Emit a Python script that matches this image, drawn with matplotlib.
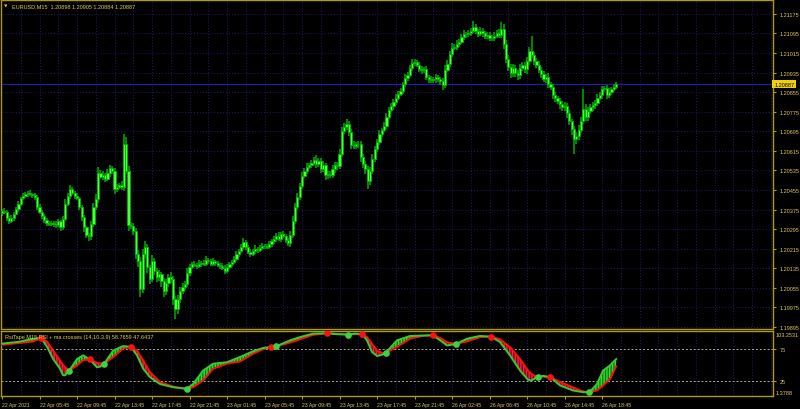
import numpy as np
import matplotlib
matplotlib.use("Agg")
import matplotlib.pyplot as plt
from matplotlib.transforms import blended_transform_factory

# EURUSD M15 closes, 22 Apr 01:45 .. 26 Apr ~20:15 (one value per bar)
closes = [
    1.20369, 1.20365, 1.20340, 1.20328, 1.20340, 1.20357, 1.20377, 1.20398, 1.20422, 1.20430,
    1.20438, 1.20443, 1.20438, 1.20434, 1.20426, 1.20385, 1.20365, 1.20348, 1.20332, 1.20320,
    1.20316, 1.20318, 1.20314, 1.20312, 1.20328, 1.20303, 1.20336, 1.20398, 1.20430, 1.20459,
    1.20443, 1.20430, 1.20422, 1.20385, 1.20344, 1.20303, 1.20271, 1.20267, 1.20316, 1.20385,
    1.20418, 1.20524, 1.20508, 1.20516, 1.20500, 1.20524, 1.20545, 1.20533, 1.20459, 1.20467,
    1.20475, 1.20467, 1.20643, 1.20533, 1.20312, 1.20308, 1.20287, 1.20193, 1.20164, 1.20050,
    1.20193, 1.20222, 1.20140, 1.20091, 1.20164, 1.20124, 1.20099, 1.20111, 1.20083, 1.20042,
    1.20074, 1.20099, 1.20091, 1.20009, 1.19968, 1.20009, 1.20042, 1.20058, 1.20070, 1.20115,
    1.20140, 1.20152, 1.20150, 1.20144, 1.20152, 1.20156, 1.20152, 1.20169, 1.20164, 1.20152,
    1.20164, 1.20156, 1.20148, 1.20144, 1.20136, 1.20124, 1.20140, 1.20152, 1.20160, 1.20173,
    1.20193, 1.20205, 1.20222, 1.20242, 1.20222, 1.20201, 1.20193, 1.20205, 1.20214, 1.20209,
    1.20218, 1.20226, 1.20224, 1.20222, 1.20234, 1.20246, 1.20254, 1.20267, 1.20254, 1.20275,
    1.20267, 1.20250, 1.20238, 1.20271, 1.20328, 1.20385, 1.20426, 1.20471, 1.20512, 1.20533,
    1.20549, 1.20557, 1.20565, 1.20578, 1.20561, 1.20573, 1.20541, 1.20557, 1.20516, 1.20520,
    1.20516, 1.20541, 1.20557, 1.20553, 1.20602, 1.20696, 1.20712, 1.20725, 1.20692, 1.20639,
    1.20635, 1.20643, 1.20643, 1.20590, 1.20561, 1.20541, 1.20492, 1.20533, 1.20582, 1.20622,
    1.20651, 1.20684, 1.20700, 1.20717, 1.20753, 1.20782, 1.20798, 1.20815, 1.20831, 1.20847,
    1.20860, 1.20888, 1.20913, 1.20925, 1.20954, 1.20974, 1.20978, 1.20966, 1.20950, 1.20946,
    1.20948, 1.20917, 1.20909, 1.20905, 1.20909, 1.20917, 1.20909, 1.20901, 1.20884, 1.20946,
    1.20970, 1.21011, 1.21036, 1.21040, 1.21052, 1.21060, 1.21081, 1.21093, 1.21091, 1.21097,
    1.21105, 1.21121, 1.21105, 1.21093, 1.21105, 1.21097, 1.21085, 1.21089, 1.21076, 1.21078,
    1.21085, 1.21097, 1.21089, 1.21113, 1.21052, 1.20991, 1.20958, 1.20933, 1.20954, 1.20933,
    1.20925, 1.20954, 1.20966, 1.20950, 1.20982, 1.21023, 1.21007, 1.20982, 1.20966, 1.20946,
    1.20929, 1.20909, 1.20917, 1.20888, 1.20876, 1.20843, 1.20831, 1.20819, 1.20807, 1.20794,
    1.20798, 1.20770, 1.20737, 1.20704, 1.20663, 1.20676, 1.20700, 1.20737, 1.20786, 1.20753,
    1.20778, 1.20794, 1.20802, 1.20811, 1.20831, 1.20843, 1.20868, 1.20872, 1.20843, 1.20856,
    1.20868, 1.20876, 1.20887,
]
first_open = 1.20360

# wick lengths in points (0.00001)
wick_up = [
    8, 12, 6, 10, 14, 8, 10, 12, 6, 14, 10, 8, 12, 6, 10, 8, 12, 6, 10, 8,
    6, 10, 8, 12, 10, 6, 14, 18, 12, 16, 10, 8, 12, 6, 8, 10, 6, 8, 12, 16,
    20, 24, 12, 16, 10, 18, 14, 8, 10, 12, 8, 16, 41, 30, 20, 12, 10, 14, 18, 16,
    22, 26, 12, 10, 24, 14, 12, 16, 10, 12, 18, 14, 20, 10, 12, 16, 14, 18, 12, 20,
    14, 10, 12, 8, 16, 10, 12, 14, 8, 10, 12, 6, 10, 8, 12, 10, 14, 8, 10, 12,
    14, 10, 12, 16, 10, 8, 12, 10, 14, 8, 10, 12, 8, 10, 12, 10, 14, 12, 16, 10,
    12, 8, 10, 16, 20, 18, 16, 14, 18, 12, 16, 10, 14, 12, 20, 14, 12, 16, 10, 14,
    12, 16, 14, 12, 20, 18, 16, 20, 14, 12, 16, 10, 14, 12, 10, 14, 12, 16, 18, 14,
    12, 16, 10, 14, 18, 12, 14, 10, 16, 12, 14, 10, 16, 12, 14, 18, 12, 10, 14, 12,
    10, 12, 8, 14, 10, 12, 8, 10, 12, 20, 16, 14, 18, 12, 16, 14, 12, 16, 10, 14,
    12, 25, 14, 10, 16, 12, 10, 14, 12, 10, 16, 14, 18, 29, 22, 16, 14, 12, 18, 14,
    12, 16, 14, 12, 18, 16, 62, 14, 12, 16, 10, 14, 12, 16, 10, 14, 12, 10, 14, 12,
    16, 12, 14, 10, 14, 18, 20, 16, 82, 20, 16, 12, 14, 10, 16, 12, 14, 10, 12, 14,
    10, 12, 8,
]
wick_dn = [
    10, 8, 14, 12, 8, 10, 6, 12, 8, 10, 6, 12, 8, 10, 14, 12, 8, 10, 12, 14,
    10, 8, 12, 14, 10, 16, 12, 10, 8, 14, 10, 12, 8, 14, 16, 18, 12, 21, 16, 12,
    14, 18, 10, 14, 12, 10, 16, 14, 20, 12, 10, 14, 16, 12, 24, 14, 16, 20, 24, 33,
    18, 16, 24, 20, 14, 18, 22, 16, 24, 26, 18, 14, 16, 24, 41, 20, 16, 14, 12, 10,
    12, 8, 10, 14, 8, 12, 10, 8, 12, 10, 8, 12, 10, 14, 10, 12, 8, 10, 12, 8,
    10, 12, 8, 12, 14, 10, 12, 8, 10, 12, 8, 10, 12, 8, 10, 14, 12, 10, 8, 12,
    10, 12, 14, 18, 12, 14, 10, 12, 14, 10, 12, 8, 14, 10, 16, 12, 18, 14, 20, 16,
    14, 12, 16, 18, 12, 14, 12, 10, 16, 18, 14, 12, 16, 20, 18, 22, 33, 16, 14, 12,
    10, 12, 14, 10, 12, 8, 10, 14, 12, 10, 8, 12, 10, 14, 10, 12, 14, 10, 12, 16,
    14, 12, 16, 14, 12, 18, 14, 16, 22, 12, 10, 14, 12, 10, 14, 12, 10, 12, 14, 10,
    12, 10, 14, 12, 10, 16, 12, 14, 10, 12, 14, 10, 12, 14, 20, 18, 16, 20, 14, 18,
    22, 16, 14, 18, 20, 14, 12, 16, 14, 12, 16, 14, 18, 16, 14, 18, 16, 14, 20, 18,
    16, 22, 18, 24, 61, 20, 16, 14, 12, 18, 14, 12, 16, 14, 12, 10, 14, 12, 16, 10,
    12, 8, 10,
]

price_ticks = [1.19895, 1.19975, 1.20055, 1.20135, 1.20215, 1.20295, 1.20375, 1.20455,
               1.20535, 1.20615, 1.20695, 1.20775, 1.20855, 1.20935, 1.21015, 1.21095, 1.21175]
time_labels = ["22 Apr 2021", "22 Apr 05:45", "22 Apr 09:45", "22 Apr 13:45", "22 Apr 17:45",
               "22 Apr 21:45", "23 Apr 01:45", "23 Apr 05:45", "23 Apr 09:45", "23 Apr 13:45",
               "23 Apr 17:45", "23 Apr 21:45", "26 Apr 02:45", "26 Apr 06:45", "26 Apr 10:45",
               "26 Apr 14:45", "26 Apr 18:45"]
last_price = 1.20887

# RsiTape indicator (bar position, rsi, ma)
tape_x = [0, 7.7, 13.2, 16.6, 19.2, 21.8, 24.7, 26, 26.9, 28.7, 32, 34.6, 37.5, 40.5, 41.8, 43.6,
          47.4, 51.6, 54.9, 57.6, 60.2, 63.1, 67.4, 73, 78.8, 81.5, 85.8, 90, 96, 101.5, 107.1,
          111.3, 114.6, 115.8, 116.9, 122.9, 127.1, 132.7, 138.8, 142.9, 147.7, 150.7, 153.7,
          155.7, 157.8, 160, 162.1, 163.7, 168.5, 174.1, 179.6, 183.7, 186.9, 189.8, 193.7,
          198.4, 203.9, 208.6, 212.4, 216.7, 221, 224.4, 225.7, 228.5, 230.8, 233.8, 238.1,
          243.6, 247.9, 250.6, 253.8, 256.4, 259.4, 262]
rsi_line = [82.8, 86, 90.6, 91.7, 78, 59, 44, 34, 33.5, 41, 59, 64.6, 58.3, 46, 47, 51.5,
            72, 79, 78, 64.6, 44, 30.7, 20, 15, 12.5, 20, 41, 51.6, 54, 62, 71,
            76, 77.6, 77.8, 78.6, 88, 93, 98.4, 99, 97.5, 96.9, 98.5, 97.4,
            88, 70, 63.5, 65.5, 68.5, 88, 94.8, 95.5, 95.8, 88, 80, 82.3,
            90.6, 94.8, 93.7, 85.4, 64.6, 41, 26.6, 25.5, 30.7, 32.7, 30.7, 17.7,
            9.9, 7.3, 7.3, 20, 41, 49, 58.77]
ma_line = [81, 84, 86, 91.7, 86, 72, 57, 50, 46, 41, 49, 57, 58.3, 53, 52, 51.5,
           62, 75, 78, 72, 57, 38.6, 23, 16, 12.5, 15, 25.5, 43.7, 51.6, 55, 67,
           74, 77.6, 78.4, 78.6, 84.4, 89.6, 96.5, 99, 98, 96.9, 97.5, 97.4,
           93, 82.8, 72, 68.5, 68.5, 77.6, 90.6, 95, 95.8, 91.7, 85, 82.3,
           86.4, 93, 93.7, 89.6, 77.6, 59, 41, 36, 30.7, 31.5, 30.7, 23,
           15, 8.3, 7.3, 10, 17.7, 28, 47.64]
cross_x = [16.6, 28.7, 37.5, 43.6, 54.9, 78.8, 114.6, 116.9, 138.8, 147.7, 153.7, 163.7,
           183.7, 193.7, 208.6, 228.5, 233.8, 250.6]
cross_y = [91.7, 41, 58.3, 51.5, 78, 12.5, 77.6, 78.6, 99, 96.9, 97.4, 68.5,
           95.8, 82.3, 93.7, 30.7, 30.7, 7.3]
cross_up = [0, 1, 0, 1, 0, 1, 0, 1, 0, 1, 0, 1, 0, 1, 0, 1, 0, 1]

assert len(closes) == len(wick_up) == len(wick_dn)

frame = '#b09a10'
txt = '#dcc850'
grid_c = '#1c1c70'
fnt = ['Liberation Sans', 'DejaVu Sans']
fs = 4.0

W, H = 800, 410
fig = plt.figure(figsize=(8, 4.1), dpi=100, facecolor='black')

def px_axes(x0, y0, x1, y1):
    return fig.add_axes([x0 / W, 1 - y1 / H, (x1 - x0) / W, (y1 - y0) / H])

ax = px_axes(1, 1, 773, 329.5)
ax2 = px_axes(1, 331.5, 773, 397)

xl = (-0.43, 328.9)
for a in (ax, ax2):
    a.set_facecolor('black')
    a.set_xlim(*xl)
    for s in a.spines.values():
        s.set_color(frame)
        s.set_linewidth(1)
    for gx in range(8, 329, 8):
        a.axvline(gx, color=grid_c, lw=0.7, ls=(0, (1, 2)), zorder=0)

# ---- main price window
c = np.array(closes)
o = np.concatenate([[first_open], c[:-1]])
hi = np.maximum(o, c) + np.array(wick_up) * 1e-5
lo = np.minimum(o, c) - np.array(wick_dn) * 1e-5
idx = np.arange(len(c))

ax.set_ylim(1.198883, 1.212319)
for p in price_ticks:
    ax.axhline(p, color=grid_c, lw=0.7, ls=(0, (1, 2)), zorder=0)
ax.axhline(last_price, color='#1e1ea8', lw=0.9, zorder=1)

ax.vlines(idx, lo, hi, color='#00a000', lw=1.2, zorder=2)
ax.bar(idx, c - o, bottom=o, width=0.95, color='#4cff3c', edgecolor='#00b000', lw=0.6, zorder=3)

ax.yaxis.tick_right()
ax.set_yticks(price_ticks)
ax.set_yticklabels([f'{p:.5f}' for p in price_ticks], family=fnt, fontsize=fs, color=txt)
ax.tick_params(axis='y', length=2.5, width=0.8, color=frame, pad=2)
ax.set_xticks([])
ax.text(1.0015, last_price, f'{last_price:.5f}', transform=blended_transform_factory(ax.transAxes, ax.transData),
        ha='left', va='center', family=fnt, fontsize=fs, color='black',
        bbox=dict(boxstyle='square,pad=0.3', fc='#f0d000', ec='none'), clip_on=False)

fig.text(4 / W, 1 - 6.5 / H, '\u25bc', fontsize=3.2, color=txt, va='center', family='DejaVu Sans')
fig.text(12 / W, 1 - 6.5 / H, 'EURUSD,M15  1.20898 1.20905 1.20884 1.20887',
         fontsize=fs, color=txt, va='center', family=fnt)

# ---- RsiTape window
tx = np.array(tape_x)
g = np.array(rsi_line)
r = np.array(ma_line)
ax2.set_ylim(1.3788, 103.2531)
for lvl in (75, 25):
    ax2.axhline(lvl, color='#a8a8a8', lw=0.7, ls=(0, (2, 2)), zorder=1)

ax2.fill_between(tx, g, r, where=g >= r, interpolate=True, facecolor='#0a780a',
                 edgecolor='#36dc36', hatch='|' * 6, lw=0, zorder=2)
ax2.fill_between(tx, g, r, where=g < r, interpolate=True, facecolor='#800022',
                 edgecolor='#f0243e', hatch='|' * 6, lw=0, zorder=2)
ax2.plot(tx, r, color='#ff1010', lw=1.4, zorder=3)
ax2.plot(tx, g, color='#32cd32', lw=1.4, zorder=4)
cx = np.array(cross_x)
cy = np.array(cross_y)
up = np.array(cross_up) == 1
ax2.plot(cx[~up], cy[~up], 'o', color='#ff1010', ms=4.8, mec='none', zorder=5)
ax2.plot(cx[up], cy[up], 'o', color='#3ed23e', ms=4.8, mec='none', zorder=5)

ax2.yaxis.tick_right()
ax2.set_yticks([75, 25])
ax2.set_yticklabels(['75', '25'], family=fnt, fontsize=fs, color=txt)
ax2.tick_params(axis='y', length=2.5, width=0.8, color=frame, pad=2)
tr = blended_transform_factory(ax2.transAxes, ax2.transData)
ax2.text(1.004, 101.5, '103.2531', transform=tr, ha='left', va='top', family=fnt, fontsize=fs, color=txt)
ax2.text(1.004, 3.0, '1.3788', transform=tr, ha='left', va='bottom', family=fnt, fontsize=fs, color=txt)
ax2.text(4 / 772, 0.94, 'RsiTape M15 RSI + ma crosses (14,10,3.9) 58.7659 47.6437',
         transform=ax2.transAxes, ha='left', va='top', family=fnt, fontsize=fs, color=txt, zorder=6)

ax2.set_xticks(np.arange(len(time_labels)) * 16)
ax2.set_xticklabels(time_labels, family=fnt, fontsize=3.7, color=txt, ha='left')
ax2.tick_params(axis='x', length=2.5, width=0.8, color=frame, pad=1.5)

fig.savefig('out.png', dpi=100, facecolor='black')
